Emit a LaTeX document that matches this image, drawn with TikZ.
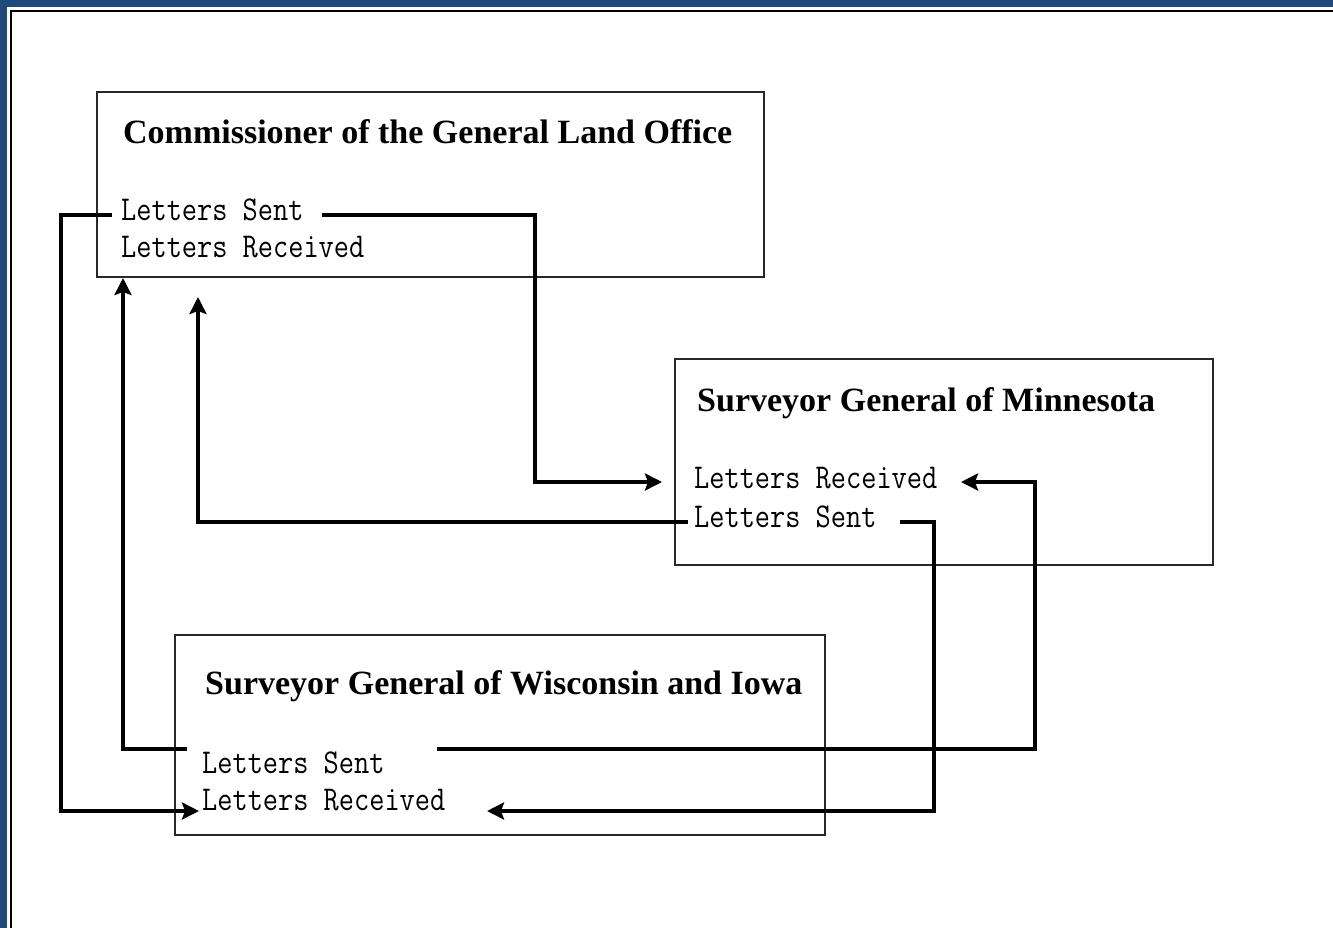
\documentclass[tikz,border=0pt]{standalone}
\usepackage{fontspec}
\setmainfont{Liberation Serif}
\usetikzlibrary{arrows.meta}
\definecolor{frameblue}{RGB}{31,72,125}
\definecolor{boxline}{RGB}{40,40,40}
\newcommand{\itm}[1]{\scalebox{1}[1.18]{#1}}
\begin{document}
\begin{tikzpicture}[x=1pt,y=-1pt,
  box/.style={draw=boxline, line width=1.8pt},
  title/.style={anchor=base west, inner sep=0pt, font=\fontsize{34}{34}\selectfont\bfseries},
  item/.style={anchor=base west, inner sep=0pt, font=\fontsize{29.5}{29.5}\ttfamily},
  link/.style={line width=4.2pt, -{Stealth[length=17pt,width=17pt,inset=3pt]}},
]
\useasboundingbox (0,0) rectangle (1333,928);
% frame
\fill[white] (0,0) rectangle (1333,928);
\fill[frameblue] (0,0) rectangle (1333,7);
\fill[frameblue] (0,0) rectangle (7,928);
\draw[line width=2pt] (11,928) -- (11,11) -- (1333,11);

% boxes
\draw[box] (97,92) rectangle (764,277);
\draw[box] (675,359) rectangle (1213,565);
\draw[box] (175,635) rectangle (825,835);

% titles
\node[title] (tc) at (123,144) {Commissioner of the General Land Office};
\node[title] (tm) at (697,411) {Surveyor General of Minnesota};
\node[title] (tw) at (205,694) {Surveyor General of Wisconsin and Iowa};

% items
\node[item] (cS) at (121,221) {\itm{Letters Sent}};
\node[item] (cR) at (121,258) {\itm{Letters Received}};
\node[item] (mR) at (694,488) {\itm{Letters Received}};
\node[item] (mS) at (694,527) {\itm{Letters Sent}};
\node[item] (wS) at (202,773) {\itm{Letters Sent}};
\node[item] (wR) at (202,810) {\itm{Letters Received}};

% connector end points
\coordinate (cSr) at (322,215);
\coordinate (cSl) at (112,215);
\coordinate (k1) at (535,215);
\coordinate (k1b) at (535,482);
\coordinate (mRin) at (662,482);
\coordinate (k2) at (61,215);
\coordinate (k2b) at (61,811);
\coordinate (wRin) at (199,811);
\coordinate (mSl) at (688,522);
\coordinate (k3) at (198,522);
\coordinate (cRin2) at (198,297);
\coordinate (mSr) at (900,522);
\coordinate (k4) at (934,522);
\coordinate (k4b) at (934,811);
\coordinate (wRin2) at (487,811);
\coordinate (wSr) at (437,749);
\coordinate (k5) at (1035,749);
\coordinate (k5b) at (1035,482);
\coordinate (mRin2) at (961,482);
\coordinate (wSl) at (187,749);
\coordinate (k6) at (123,749);
\coordinate (cRin1) at (123,278);

% connectors
\draw[link] (cSr) -- (k1) -- (k1b) -- (mRin);
\draw[link] (cSl) -- (k2) -- (k2b) -- (wRin);
\draw[link] (mSl) -- (k3) -- (cRin2);
\draw[link] (mSr) -- (k4) -- (k4b) -- (wRin2);
\draw[link] (wSr) -- (k5) -- (k5b) -- (mRin2);
\draw[link] (wSl) -- (k6) -- (cRin1);
\end{tikzpicture}
\end{document}
